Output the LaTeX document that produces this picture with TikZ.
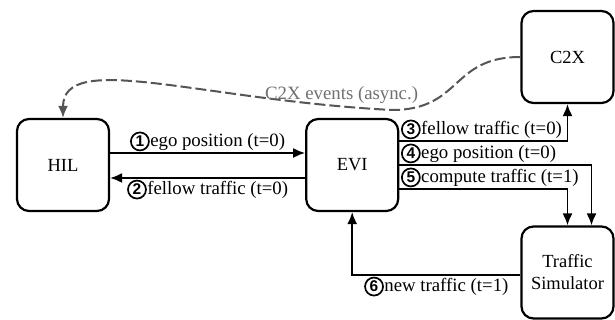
\documentclass[tikz,border=0pt]{standalone}
\usepackage{fontspec}
\setmainfont{Liberation Serif}
\newfontfamily\circfont{Liberation Sans}
\usepackage{tikz}
\usetikzlibrary{positioning,arrows.meta}
\usepackage{xcolor}
\definecolor{asyncline}{HTML}{555555}
\definecolor{asynctext}{HTML}{707070}
\newcommand{\cnum}[1]{\tikz[baseline=(n.base)]\node[circle,draw,line width=1.7pt,inner sep=0pt,minimum size=18pt,font=\circfont\bfseries\fontsize{15.5}{14}\selectfont] (n) {#1};\hspace{0.5pt}}

\begin{document}
\begin{tikzpicture}[
    x=1pt,y=1pt,
    box/.style={draw,rectangle,rounded corners=12pt,line width=2.2pt,minimum width=92pt,minimum height=92pt,align=center,font=\fontsize{18.5}{22}\selectfont},
    arr/.style={-{Latex[length=12pt,width=10pt]},line width=1.8pt},
    lbl/.style={font=\fontsize{18.8}{22}\selectfont,inner sep=1.5pt},
    async/.style={-{Latex[length=12pt,width=10pt]},line width=2pt,dash pattern=on 11pt off 4pt,draw=asyncline},
  ]
    \useasboundingbox (0,0) rectangle (615,320);
    \node[box] (HIL) at (63,155) {HIL};
    \node[box,right=195pt of HIL] (EVI) {EVI};
    \node[box] (C2X) at (567.5,263) {C2X};
    \node[box] (TS) at (567.5,47.5) {Traffic\\Simulator};
    \coordinate (dip) at (392,210);
    \draw[arr] ([yshift=12pt]HIL.east) -- node[lbl,above] {\cnum{1}ego position (t=0)} ([yshift=12pt]EVI.west);
    \draw[arr] ([yshift=-13pt]EVI.west) -- node[lbl,below] {\cnum{2}fellow traffic (t=0)} ([yshift=-13pt]HIL.east);
    \draw[arr] ([yshift=24pt]EVI.east) -| node[lbl,pos=0,anchor=south west] {\cnum{3}fellow traffic (t=0)} (C2X.south);
    \draw[arr] (EVI.east) -| node[lbl,pos=0,anchor=south west] {\cnum{4}ego position (t=0)} ([xshift=24pt]TS.north);
    \draw[arr] ([yshift=-24pt]EVI.east) -| node[lbl,pos=0,anchor=south west] {\cnum{5}compute traffic (t=1)} (TS.north);
    \draw[arr] ([yshift=-2.5pt]TS.west) -| node[lbl,pos=0.25,below] {\cnum{6}new traffic (t=1)} (EVI.south);
    \draw[async] (C2X.west) .. controls +(-70,0) and +(70,0) .. (dip)
      .. controls +(-192,10) and +(0,68) .. node[lbl,pos=0.09,above,text=asynctext] {C2X events (async.)} (HIL.north);
  \end{tikzpicture}
\end{document}
